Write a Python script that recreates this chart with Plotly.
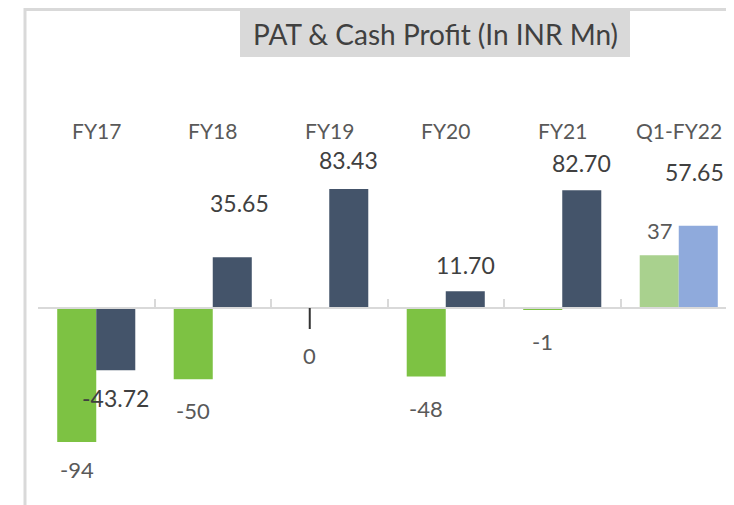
import plotly.graph_objects as go

# ---- data ----
categories = ["FY17", "FY18", "FY19", "FY20", "FY21", "Q1-FY22"]
pat = [-94, -50, 0, -48, -1, 37]
cash_profit = [-43.72, 35.65, 83.43, 11.70, 82.70, 57.65]
pat_labels = ["-94", "-50", "0", "-48", "-1", "37"]
cash_labels = ["-43.72", "35.65", "83.43", "11.70", "82.70", "57.65"]

# ---- styling ----
OFF = 8                      # page body margin of the browser
SW, SH = 734, 505            # screen size
W, H = SW - OFF, SH - OFF    # figure size
AX_L = 38                    # screen x where plot area starts
ML = AX_L - OFF
CAT_W = 116.5                # px per category
FONT = "Lato"
pat_colors = ["#7dc243"] * 5 + ["#a9d18e"]
cash_colors = ["#44546a"] * 5 + ["#8faadc"]
# label offsets in pixels (dx, dy; dy positive = up)
pat_off = [(0, -28), (0, -31), (0, -47), (0, -32), (0, -32), (1, 25)]
cash_off = [(0, -28), (7, 54), (0, 29), (0, 26), (0, 27), (-4, 54)]

BASE = 308                   # screen y of zero
PPU = 1.425                  # px per unit
ymax = (BASE - OFF) / PPU
ymin = -(OFF + H - BASE) / PPU
zero_pos = (0 - ymin) / (ymax - ymin)
half = 19.5


def px(xs):
    return (xs - OFF - ML) / (W - ML)


def py(ys):
    return 1 - (ys - OFF) / H


fig = go.Figure()
fig.add_trace(go.Bar(x=categories, y=pat, name="PAT", marker_color=pat_colors,
                     marker_line_width=0))
fig.add_trace(go.Bar(x=categories, y=cash_profit, name="Cash Profit",
                     marker_color=cash_colors, marker_line_width=0))

annotations = []
for c in categories:
    annotations.append(dict(x=c, xref="x", y=py(130), yref="paper", text=c,
                            showarrow=False, font=dict(family=FONT, size=21, color="#595959"),
                            xanchor="center", yanchor="middle"))
for i, c in enumerate(categories):
    dx, dy = pat_off[i]
    if pat[i] == 0:
        annotations.append(dict(x=c, xref="x", y=pat[i], yref="y", text=pat_labels[i],
                                showarrow=True, arrowhead=0, arrowwidth=2, arrowcolor="#333333",
                                ax=0, ay=-dy, xshift=-half + dx, startstandoff=11,
                                font=dict(family=FONT, size=22, color="#595959")))
    else:
        annotations.append(dict(x=c, xref="x", y=pat[i], yref="y", text=pat_labels[i],
                                showarrow=False, xshift=-half + dx, yshift=dy,
                                xanchor="center", yanchor="middle",
                                font=dict(family=FONT, size=22, color="#595959")))
for i, c in enumerate(categories):
    dx, dy = cash_off[i]
    annotations.append(dict(x=c, xref="x", y=cash_profit[i], yref="y", text=cash_labels[i],
                            showarrow=False, xshift=half + dx, yshift=dy,
                            xanchor="center", yanchor="middle",
                            font=dict(family=FONT, size=23, color="#404040")))
annotations.append(dict(x=px(435), y=py(34), xref="paper", yref="paper",
                        text="PAT & Cash Profit (In INR Mn)", showarrow=False,
                        xanchor="center", yanchor="middle",
                        font=dict(family=FONT, size=28, color="#404040")))

shapes = [
    dict(type="line", xref="paper", yref="paper", x0=px(24), x1=px(745), y0=py(9.5), y1=py(9.5),
         line=dict(color="#d9d9d9", width=3), layer="below"),
    dict(type="line", xref="paper", yref="paper", x0=px(25), x1=px(25), y0=py(8), y1=py(515),
         line=dict(color="#d9d9d9", width=3), layer="below"),
    dict(type="rect", xref="paper", yref="paper", x0=px(240), x1=px(630), y0=py(11), y1=py(57),
         fillcolor="#d9d9d9", line=dict(width=0), layer="below"),
]

fig.update_layout(
    width=W, height=H,
    margin=dict(l=ML, r=0, t=0, b=0, pad=0),
    paper_bgcolor="white", plot_bgcolor="white",
    barmode="group", bargap=0.33, bargroupgap=0,
    showlegend=False,
    annotations=annotations, shapes=shapes,
    xaxis=dict(range=[-0.5, -0.5 + (W - ML) / CAT_W], anchor="free", position=zero_pos,
               showline=True, linecolor="#d9d9d9", linewidth=2,
               ticks="inside", tickson="boundaries", ticklen=8, tickcolor="#d9d9d9", tickwidth=2,
               showticklabels=False, showgrid=False, zeroline=False, fixedrange=True),
    yaxis=dict(range=[ymin, ymax], visible=False, showgrid=False, zeroline=False, fixedrange=True),
)

fig.write_html("out.html")
